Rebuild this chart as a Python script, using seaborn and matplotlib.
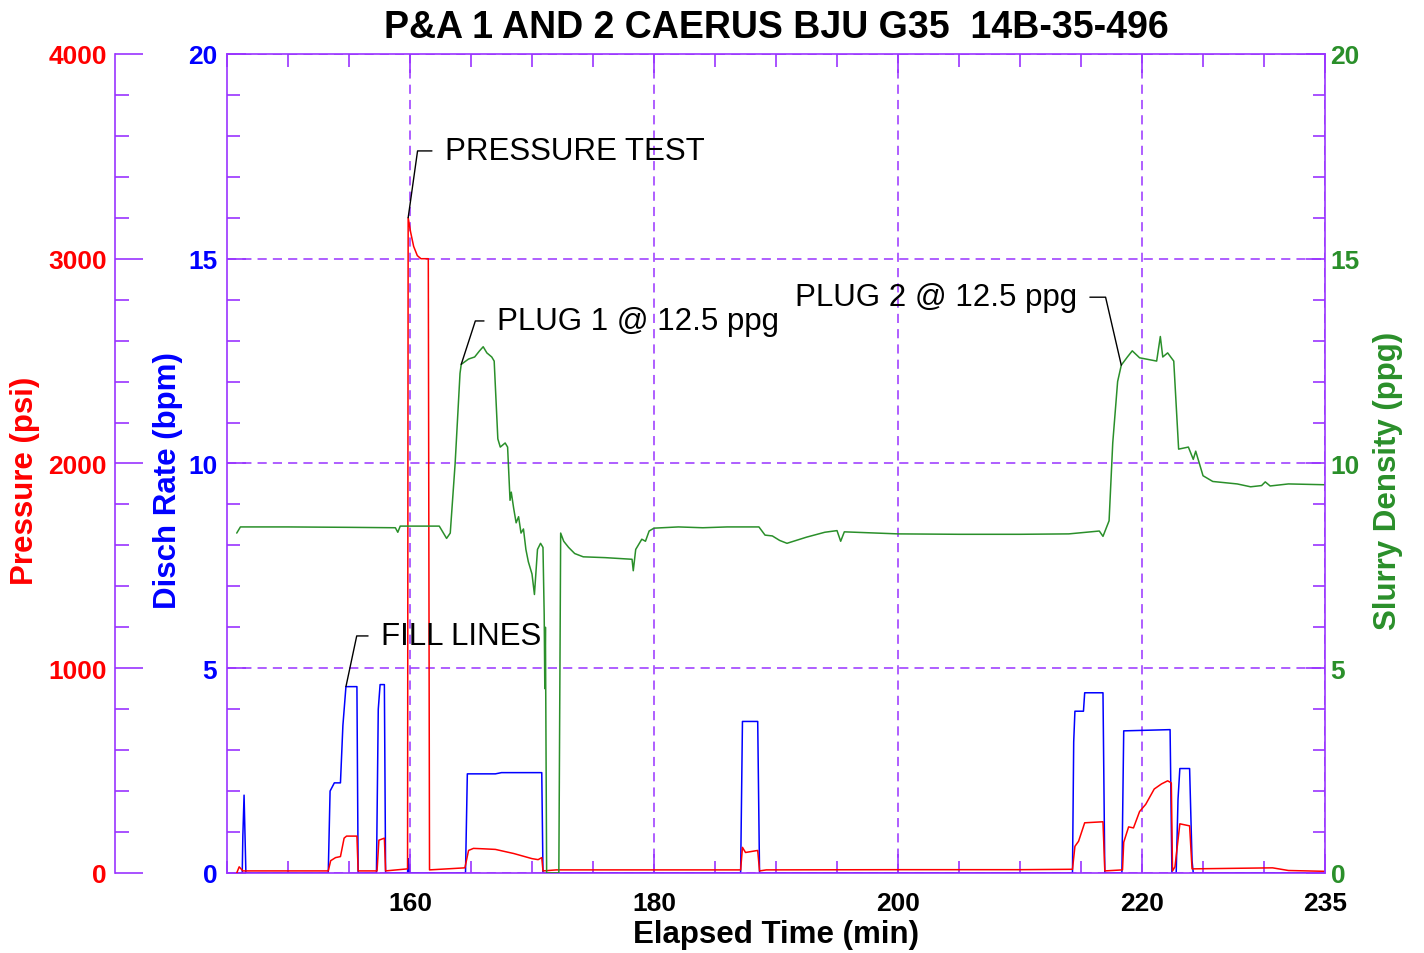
import numpy as np
import pandas as pd
import matplotlib
matplotlib.use("Agg")
import matplotlib.pyplot as plt
from matplotlib.ticker import MultipleLocator, FixedLocator
import seaborn as sns

# elapsed time (min) and values
dens_t = [145.8, 146.1, 150, 155, 158.8, 159.0, 159.2, 162.4, 163.0, 163.3, 163.7, 164.1,
          164.2, 164.8, 165.3, 165.7, 166.0, 166.3, 166.7, 166.9, 167.2, 167.4, 167.8, 168.0,
          168.2, 168.3, 168.5, 168.7, 168.9, 169.1, 169.3, 169.5, 169.7, 170.0, 170.2, 170.45,
          170.7, 170.9, 171.0, 171.05, 171.1, 171.2, 172.2, 172.35, 172.6, 173.0, 173.5, 174.2,
          176.0, 178.2, 178.3, 178.5, 179.0, 179.3, 179.6, 180.0, 182.0, 184.0, 186.0, 188.6,
          189.1, 189.7, 190.3, 190.9, 192.5, 194.0, 195.0, 195.3, 195.6, 200.0, 205.0, 210.0,
          214.0, 216.5, 216.8, 217.3, 217.6, 218.0, 218.3, 218.8, 219.2, 219.8, 221.2, 221.5,
          221.7, 222.1, 222.6, 223.0, 223.8, 224.2, 224.4, 224.6, 225.0, 225.8, 227.8, 228.9,
          229.8, 230.1, 230.5, 232.0, 235.0]
dens_ppg = [8.3, 8.45, 8.45, 8.44, 8.43, 8.32, 8.47, 8.47, 8.17, 8.3, 10.0, 12.2,
            12.42, 12.55, 12.6, 12.75, 12.85, 12.7, 12.6, 12.5, 10.6, 10.4, 10.5, 10.4,
            9.1, 9.3, 8.9, 8.55, 8.7, 8.3, 8.4, 7.9, 7.6, 7.3, 6.8, 7.9,
            8.05, 7.95, 6.3, 4.5, 6.0, 0.0, 0.0, 8.3, 8.1, 7.95, 7.8, 7.72,
            7.7, 7.66, 7.38, 7.9, 8.15, 8.1, 8.35, 8.42, 8.45, 8.43, 8.45, 8.45,
            8.25, 8.23, 8.12, 8.05, 8.2, 8.32, 8.36, 8.1, 8.33, 8.28, 8.27, 8.27,
            8.28, 8.35, 8.22, 8.6, 10.5, 12.0, 12.4, 12.6, 12.75, 12.58, 12.5, 13.1,
            12.6, 12.7, 12.5, 10.35, 10.4, 10.1, 10.3, 10.1, 9.7, 9.56, 9.5, 9.43,
            9.46, 9.55, 9.45, 9.5, 9.48]

rate_t = [145.8, 146.25, 146.3, 146.4, 146.55, 153.3, 153.45, 153.8, 154.3, 154.5, 154.75,
          155.65, 155.75, 157.25, 157.4, 157.55, 157.9, 158.0, 159.8, 159.85, 159.9, 164.55,
          164.7, 167.0, 167.5, 170.8, 170.9, 187.1, 187.25, 188.5, 188.65, 214.3, 214.4,
          214.5, 215.2, 215.3, 216.8, 216.95, 218.35, 218.5, 222.3, 222.45, 222.8, 222.95,
          223.1, 223.9, 224.1, 224.2, 235.0]
rate_bpm = [0, 0, 0.9, 1.9, 0, 0, 2.0, 2.2, 2.2, 3.6, 4.55,
            4.55, 0, 0, 4.0, 4.6, 4.6, 0, 0, 0.35, 0, 0,
            2.42, 2.42, 2.45, 2.45, 0, 0, 3.7, 3.7, 0, 0, 3.2,
            3.95, 3.95, 4.4, 4.4, 0, 0, 3.47, 3.5, 0, 0, 1.8,
            2.55, 2.55, 0.3, 0, 0]

pres_t = [145.8, 146.0, 146.3, 150.0, 153.3, 153.5, 153.9, 154.3, 154.6, 154.8, 155.65, 155.75,
          157.3, 157.45, 157.9, 158.0, 159.8, 159.85, 160.05, 160.3, 160.6, 160.9, 161.5, 161.6,
          164.5, 164.8, 165.2, 166.0, 167.0, 168.5, 170.0, 170.5, 170.8, 170.9, 172.0, 180.0,
          187.1, 187.25, 187.5, 188.5, 188.65, 189.2, 200.0, 210.0, 214.3, 214.5, 214.8, 215.3,
          216.8, 216.95, 218.4, 218.5, 218.9, 219.3, 219.8, 220.3, 221.0, 221.6, 222.1, 222.4,
          222.5, 222.7, 223.1, 223.9, 224.1, 230.7, 232.0, 235.0]
pres_psi = [0, 30, 10, 10, 10, 60, 75, 80, 170, 180, 180, 10,
            10, 160, 170, 10, 20, 3200, 3130, 3060, 3015, 3000, 3000, 15,
            25, 110, 120, 118, 115, 95, 70, 65, 75, 10, 15, 15,
            15, 125, 100, 110, 10, 15, 16, 16, 18, 130, 155, 245,
            250, 10, 15, 150, 225, 220, 300, 335, 410, 435, 450, 440,
            10, 30, 240, 230, 20, 25, 12, 8]

title = "P&A 1 AND 2 CAERUS BJU G35  14B-35-496"
x_major = [160, 180, 200, 220, 235]

purple = "#9933FF"
red = "#FF0000"
blue = "#0000FF"
green = "#2A8F2A"

sns.set_style("white")
plt.rcParams["font.family"] = ["Liberation Sans", "DejaVu Sans"]
plt.rcParams["font.weight"] = "bold"
plt.rcParams["text.color"] = "black"

fig = plt.figure(figsize=(14.24, 9.54), dpi=100)
ax = fig.add_axes([0.1594, 0.0839, 0.7711, 0.8585])
ax_p = ax.twinx()
ax_d = ax.twinx()

df_rate = pd.DataFrame({"t": rate_t, "v": rate_bpm})
df_pres = pd.DataFrame({"t": pres_t, "v": pres_psi})
df_dens = pd.DataFrame({"t": dens_t, "v": dens_ppg})

sns.lineplot(data=df_rate, x="t", y="v", ax=ax, color=blue, linewidth=1.1,
             estimator=None, sort=False)
sns.lineplot(data=df_dens, x="t", y="v", ax=ax_d, color=green, linewidth=1.1,
             estimator=None, sort=False)
sns.lineplot(data=df_pres, x="t", y="v", ax=ax_p, color=red, linewidth=1.1,
             estimator=None, sort=False)

ax.set_xlim(145, 235)
ax.set_ylim(0, 20)
ax_p.set_ylim(0, 4000)
ax_d.set_ylim(0, 20)

# spines
for a in (ax, ax_p, ax_d):
    for s in a.spines.values():
        s.set_color(purple)
        s.set_linewidth(1.2)
for s in ("top", "bottom", "right"):
    ax_p.spines[s].set_visible(False)
ax_p.spines["left"].set_visible(True)
ax_p.spines["left"].set_position(("outward", 80.6))
for s in ("top", "bottom", "left"):
    ax_d.spines[s].set_visible(False)
ax.spines["right"].set_visible(False)

# x axis
ax.xaxis.set_major_locator(FixedLocator(x_major))
ax.xaxis.set_minor_locator(MultipleLocator(5))
ax.tick_params(axis="x", which="both", direction="in", top=True, bottom=True,
               color=purple, width=1.2, labelsize=19, labelcolor="black", pad=13)
ax.tick_params(axis="x", which="major", length=14)
ax.tick_params(axis="x", which="minor", length=9)

# rate axis (left, inner)
ax.yaxis.set_major_locator(MultipleLocator(5))
ax.yaxis.set_minor_locator(MultipleLocator(1))
ax.tick_params(axis="y", which="both", direction="in", left=True, right=False,
               color=purple, width=1.2, labelsize=19, labelcolor=blue, pad=7)
ax.tick_params(axis="y", which="major", length=14)
ax.tick_params(axis="y", which="minor", length=9)

# pressure axis (left, outer)
ax_p.yaxis.set_ticks_position("left")
ax_p.yaxis.set_label_position("left")
ax_p.yaxis.set_major_locator(MultipleLocator(1000))
ax_p.yaxis.set_minor_locator(MultipleLocator(200))
ax_p.tick_params(axis="y", which="both", direction="in", left=True, right=False,
                 labelleft=True, labelright=False,
                 color=purple, width=1.2, labelsize=19, labelcolor=red, pad=6)
ax_p.tick_params(axis="y", which="major", length=20)
ax_p.tick_params(axis="y", which="minor", length=10)

# density axis (right)
ax_d.yaxis.set_major_locator(MultipleLocator(5))
ax_d.yaxis.set_minor_locator(MultipleLocator(1))
ax_d.tick_params(axis="y", which="both", direction="in", right=True, left=False,
                 color=purple, width=1.2, labelsize=19, labelcolor=green, pad=4)
ax_d.tick_params(axis="y", which="major", length=14)
ax_d.tick_params(axis="y", which="minor", length=9)

ax.grid(True, which="major", color=purple, linestyle=(0, (6, 4)), linewidth=1.1)

# labels
ax.set_title(title, fontsize=27, fontweight="bold", color="black", pad=12)
ax.set_xlabel("Elapsed Time (min)", fontsize=22.5, fontweight="bold", color="black")
ax.xaxis.set_label_coords(0.5, -0.0745)
ax.xaxis.label.set_verticalalignment("center")
ax.set_ylabel("Disch Rate (bpm)", fontsize=22.5, fontweight="bold", color=blue)
ax.yaxis.set_label_coords(-0.0537, 0.48)
ax.yaxis.label.set_verticalalignment("center")
ax_p.set_ylabel("Pressure (psi)", fontsize=22.5, fontweight="bold", color=red)
ax_p.yaxis.set_label_coords(-0.184, 0.48)
ax_p.yaxis.label.set_verticalalignment("center")
ax_d.set_ylabel("Slurry Density (ppg)", fontsize=22.5, fontweight="bold", color=green)
ax_d.yaxis.set_label_coords(1.057, 0.48)
ax_d.yaxis.label.set_verticalalignment("center")
ax_d.set_xlabel("")
ax_p.set_xlabel("")

# callouts
lead = dict(arrowstyle="-", color="black", linewidth=1.0, shrinkA=7, shrinkB=0)
ax_d.annotate("PRESSURE TEST", xy=(159.85, 3200), xycoords=ax_p.transData,
              xytext=(0.1985, 0.8816), textcoords="axes fraction",
              ha="left", va="center", fontsize=22.5, fontweight="normal", color="black",
              arrowprops=dict(lead, relpos=(0, 0.5),
                              connectionstyle="angle,angleA=0,angleB=82,rad=0"))
ax_d.annotate("PLUG 1 @ 12.5 ppg", xy=(164.2, 12.42), xycoords="data",
              xytext=(0.2459, 0.674), textcoords="axes fraction",
              ha="left", va="center", fontsize=22.5, fontweight="normal", color="black",
              arrowprops=dict(lead, relpos=(0, 0.5),
                              connectionstyle="angle,angleA=0,angleB=72,rad=0"))
ax_d.annotate("PLUG 2 @ 12.5 ppg", xy=(218.3, 12.4), xycoords="data",
              xytext=(0.774, 0.703), textcoords="axes fraction",
              ha="right", va="center", fontsize=22.5, fontweight="normal", color="black",
              arrowprops=dict(lead, relpos=(1, 0.5),
                              connectionstyle="angle,angleA=0,angleB=103,rad=0"))
ax_d.annotate("FILL LINES", xy=(154.75, 4.55), xycoords=ax.transData,
              xytext=(0.1403, 0.2894), textcoords="axes fraction",
              ha="left", va="center", fontsize=22.5, fontweight="normal", color="black",
              arrowprops=dict(lead, relpos=(0, 0.5),
                              connectionstyle="angle,angleA=0,angleB=78,rad=0"))

fig.savefig("out.png", dpi=100)
